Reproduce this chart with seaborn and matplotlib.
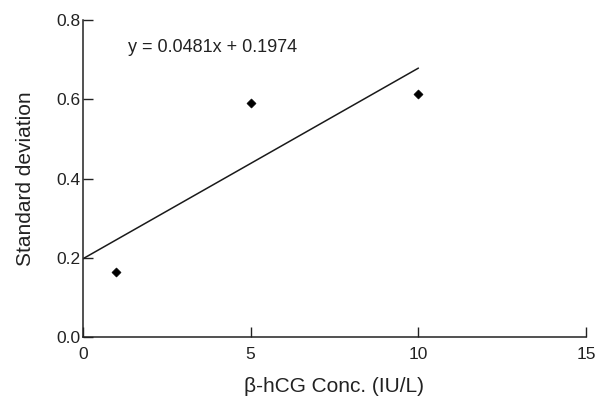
import numpy as np
import pandas as pd
import matplotlib
matplotlib.use('Agg')
import matplotlib.pyplot as plt
import seaborn as sns

# measured points
conc = [1, 5, 10]
std_dev = [0.164, 0.590, 0.613]

# linear fit shown on the chart
slope = 0.0481
intercept = 0.1974
fit_x = [0, 10]

x_ticks = [0, 5, 10, 15]
y_ticks = [0.0, 0.2, 0.4, 0.6, 0.8]

sns.set_style('white')
plt.rcParams['font.family'] = ['Liberation Sans', 'DejaVu Sans']
plt.rcParams['xtick.direction'] = 'in'
plt.rcParams['ytick.direction'] = 'in'
plt.rcParams['xtick.bottom'] = True
plt.rcParams['ytick.left'] = True
plt.rcParams['xtick.major.size'] = 7
plt.rcParams['ytick.major.size'] = 7
plt.rcParams['xtick.major.pad'] = 7
plt.rcParams['ytick.major.pad'] = 2

df = pd.DataFrame({'conc': conc, 'sd': std_dev})

fig = plt.figure(figsize=(6, 3.98), dpi=100)
ax = fig.add_axes([0.138, 0.153, 0.839, 0.797])

fit_y = [slope * v + intercept for v in fit_x]
ax.plot(fit_x, fit_y, color='#1a1a1a', linewidth=1.1)
sns.scatterplot(data=df, x='conc', y='sd', marker='D', s=22, color='black',
                edgecolor='black', ax=ax, zorder=3)

ax.set_xlim(0, 15)
ax.set_ylim(0, 0.8)
ax.set_xticks(x_ticks)
ax.set_yticks(y_ticks)
ax.set_yticklabels([f'{v:.1f}' for v in y_ticks])
ax.tick_params(width=1, labelsize=12.5, colors='#222222')

for side in ['top', 'right']:
    ax.spines[side].set_visible(False)
for side in ['left', 'bottom']:
    ax.spines[side].set_color('#222222')
    ax.spines[side].set_linewidth(1.1)

ax.set_xlabel('β-hCG Conc. (IU/L)', fontsize=15, color='#222222', labelpad=11)
ax.set_ylabel('Standard deviation', fontsize=15, color='#222222', labelpad=15)

ax.text(1.35, 0.73, f'y = {slope}x + {intercept}', fontsize=13, color='#222222',
        va='center')

fig.savefig('out.png', dpi=100)
